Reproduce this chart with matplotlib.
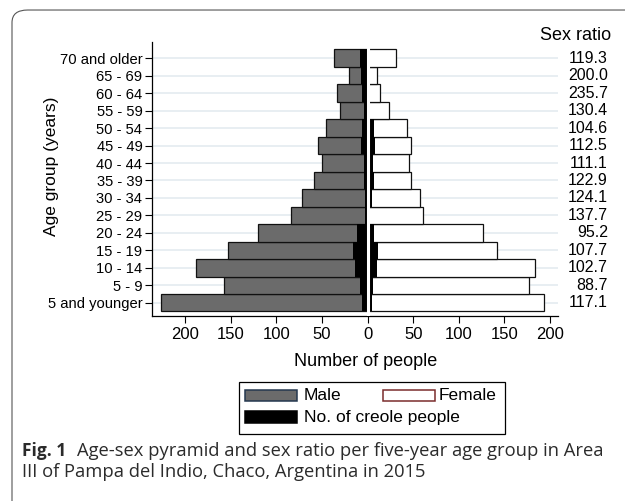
import numpy as np
import matplotlib.pyplot as plt
from matplotlib.patches import Rectangle, FancyBboxPatch

plt.rcParams['font.family'] = ['Liberation Sans', 'DejaVu Sans']

ages = ['5 and younger', '5 - 9', '10 - 14', '15 - 19', '20 - 24', '25 - 29', '30 - 34',
        '35 - 39', '40 - 44', '45 - 49', '50 - 54', '55 - 59', '60 - 64', '65 - 69', '70 and older']
male = [226, 157, 188, 153, 120, 84, 72, 59, 50, 54, 45, 30, 33, 20, 37]
female = [193, 177, 183, 142, 126, 61, 58, 48, 45, 48, 43, 23, 14, 10, 31]
creole_male = [6, 8, 14, 16, 12, 3, 3, 4, 4, 7, 6, 4, 6, 7, 8]
creole_female = [5, 6, 10, 12, 7, 3, 5, 7, 6, 8, 7, 3, 2, 3, 3]
sex_ratio = ['117.1', '88.7', '102.7', '107.7', '95.2', '137.7', '124.1', '122.9',
             '111.1', '112.5', '104.6', '130.4', '235.7', '200.0', '119.3']

W, H = 625, 501
y = np.arange(len(ages))

fig = plt.figure(figsize=(6.25, 5.01), dpi=100)
ax = fig.add_axes([0.2432, 0.3693, 0.6496, 0.5469])

for yi in y:
    ax.axhline(yi, color='#e6edf1', lw=1.3, zorder=0)

ax.barh(y, -np.array(male), height=1.0, color='#6b6b6b', edgecolor='#111111', lw=0.9, zorder=2)
ax.barh(y, female, height=1.0, color='white', edgecolor='#111111', lw=0.9, zorder=2)
ax.barh(y, -np.array(creole_male), height=1.0, color='black', lw=0, zorder=3)
ax.barh(y, creole_female, height=1.0, color='black', lw=0, zorder=3)
ax.axvline(0, color='white', lw=2.2, zorder=4)

ax.set_xlim(-236, 208.6)
ax.set_ylim(-0.76, 14.93)
ax.set_xticks([-200, -150, -100, -50, 0, 50, 100, 150, 200])
ax.set_xticklabels(['200', '150', '100', '50', '0', '50', '100', '150', '200'])
ax.set_yticks(y)
ax.set_yticklabels(ages)
ax.tick_params(axis='both', length=5, width=0.8, direction='out', colors='black')
ax.tick_params(axis='x', labelsize=12, pad=3)
ax.tick_params(axis='y', labelsize=10.6, pad=2)
for s in ['top', 'right']:
    ax.spines[s].set_visible(False)
for s in ['left', 'bottom']:
    ax.spines[s].set_linewidth(0.9)

ax.set_xlabel('Number of people', fontsize=13)
ax.xaxis.set_label_coords(0.525, -0.135)
ax.set_ylabel('Age group (years)', fontsize=12.5)
ax.yaxis.set_label_coords(-0.229, 0.547)

for yi, r in zip(y, sex_ratio):
    ax.text(1.123, yi, r, transform=ax.get_yaxis_transform(), ha='right', va='center', fontsize=11.5)
ax.text(1.13, 1.022, 'Sex ratio', transform=ax.transAxes, ha='right', va='center', fontsize=13)


def px(x0, y0):
    return x0 / W, 1 - y0 / H


# legend drawn by hand so the Female key sits next to Male as in the original
lx, ly = px(239, 434)
fig.patches.append(Rectangle((lx, ly), (505 - 239) / W, (434 - 382) / H, transform=fig.transFigure,
                             facecolor='white', edgecolor='black', lw=0.9))
keys = [((245, 401.3), '#6b6b6b', '#24384f', 'Male', (304, 395.5)),
        ((383, 401.3), 'white', '#7a2c2c', 'Female', (439, 395.5)),
        ((245, 423), 'black', 'black', 'No. of creole people', (304, 417.5))]
for (kx, ky), fc, ec, lab, (tx, ty) in keys:
    x0, y0 = px(kx, ky)
    fig.patches.append(Rectangle((x0, y0), 52 / W, 11.6 / H, transform=fig.transFigure,
                                 facecolor=fc, edgecolor=ec, lw=1.1))
    fig.text(*px(tx, ty), lab, fontsize=12.5, va='center', ha='left')

# caption box
box = FancyBboxPatch((12 / W, -0.2), 1.2, 1.18, boxstyle='round,pad=0,rounding_size=0.025',
                     transform=fig.transFigure, fill=False, edgecolor='#555555', lw=0.8)
fig.patches.append(box)
fig.text(*px(22, 451), 'Fig. 1', fontsize=12.5, fontweight='bold', color='#2b2b2b',
         va='center', ha='left', family='Open Sans')
fig.text(*px(77, 451), 'Age-sex pyramid and sex ratio per five-year age group in Area',
         fontsize=13.2, color='#2b2b2b', va='center', ha='left', family='Open Sans')
fig.text(*px(22, 472), 'III of Pampa del Indio, Chaco, Argentina in 2015',
         fontsize=13.2, color='#2b2b2b', va='center', ha='left', family='Open Sans')

plt.savefig('out.png', dpi=100)
